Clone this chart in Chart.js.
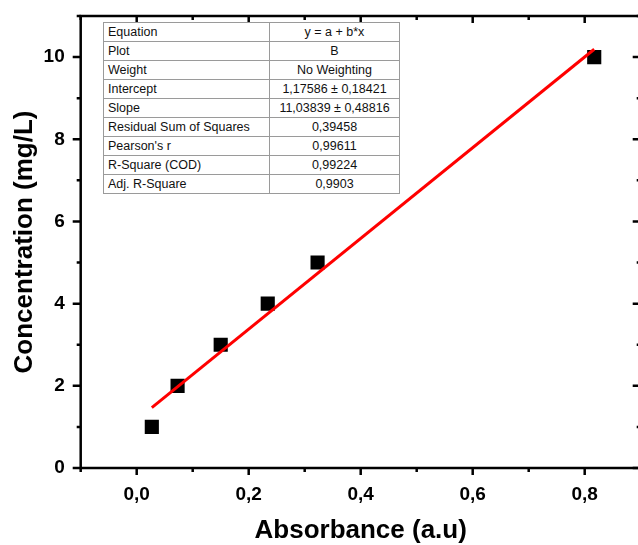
<!DOCTYPE html>
<html>
<head>
<meta charset="utf-8">
<script src="https://cdn.jsdelivr.net/npm/chart.js@4/dist/chart.umd.min.js"></script>
<style>
  html, body { margin: 0; padding: 0; background: #fff; overflow: hidden; }
  #wrap { position: relative; width: 638px; height: 545px; overflow: hidden; }
  #chart { position: absolute; left: 0; top: 0; }
  #stats {
    position: absolute; left: 103px; top: 22px;
    border-collapse: collapse;
    font-family: "Liberation Sans", Arial, sans-serif; font-size: 12.5px; color: #111;
    background: #fff;
  }
  #stats td { border: 1px solid #9a9a9a; height: 18px; padding: 0 4px; line-height: 16px; }
  #stats td.k { width: 157px; text-align: left; }
  #stats td.v { width: 121px; text-align: center; }
</style>
</head>
<body>
<div id="wrap">
  <canvas id="chart" width="648" height="545"></canvas>
  <table id="stats"></table>
</div>
<script>
;(function () {
    'use strict';

    // measured points
    var absorbance    = [0.027, 0.073, 0.150, 0.234, 0.323, 0.817];
    var concentration = [1, 2, 3, 4, 5, 10];

    // fitted line, ends
    var fitX = [0.027, 0.817];
    var fitY = [1.47, 10.19];

    // fit report box
    var statLabels = ['Equation', 'Plot', 'Weight', 'Intercept', 'Slope',
        'Residual Sum of Squares', "Pearson's r", 'R-Square (COD)', 'Adj. R-Square'];
    var statValues = ['y = a + b*x', 'B', 'No Weighting', '1,17586 \u00b1 0,18421',
        '11,03839 \u00b1 0,48816', '0,39458', '0,99611', '0,99224', '0,9903'];

    var table = document.getElementById('stats');
    statLabels.forEach(function (lab, i) {
        var tr = document.createElement('tr');
        var a = document.createElement('td');
        a.className = 'k';
        a.textContent = lab;
        var b = document.createElement('td');
        b.className = 'v';
        b.textContent = statValues[i];
        tr.appendChild(a);
        tr.appendChild(b);
        table.appendChild(tr);
    });

    var FONT = '"Liberation Sans", Arial, sans-serif';

    function toPts(xs, ys) {
        return xs.map(function (x, i) { return { x: x, y: ys[i] }; });
    }

    function noPad(s) {
        s.paddingTop = 0;
        s.paddingBottom = 0;
        s.paddingLeft = 0;
        s.paddingRight = 0;
    }

    // frame with ticks on all four sides (out on left/bottom, in on top/right)
    var frame = {
        id: 'frame',
        afterDraw: function (chart) {
            var ctx = chart.ctx;
            var a = chart.chartArea;
            var xs = chart.scales.x;
            var ys = chart.scales.y;
            ctx.save();
            ctx.strokeStyle = '#000';
            ctx.lineWidth = 2.5;
            ctx.lineCap = 'butt';
            ctx.strokeRect(a.left, a.top, a.right - a.left, a.bottom - a.top);

            xs.ticks.forEach(function (t) {
                var px = xs.getPixelForValue(t.value);
                var major = Math.round(t.value * 10) % 2 === 0;
                var len = major ? 7 : 4;
                ctx.beginPath();
                ctx.moveTo(px, a.bottom);
                ctx.lineTo(px, a.bottom + len);
                ctx.moveTo(px, a.top);
                ctx.lineTo(px, a.top + len);
                ctx.stroke();
            });
            ys.ticks.forEach(function (t) {
                var py = ys.getPixelForValue(t.value);
                var major = Math.round(t.value) % 2 === 0;
                var len = major ? 8 : 4;
                ctx.beginPath();
                ctx.moveTo(a.left, py);
                ctx.lineTo(a.left - len, py);
                ctx.moveTo(a.right, py);
                ctx.lineTo(a.right - len, py);
                ctx.stroke();
            });
            ctx.restore();
        }
    };

    new Chart(document.getElementById('chart'), {
        type: 'scatter',
        data: {
            datasets: [{
                label: 'B',
                data: toPts(absorbance, concentration),
                pointStyle: 'rect',
                pointRadius: 10,
                pointHoverRadius: 10,
                backgroundColor: '#000',
                borderColor: '#000',
                borderWidth: 0,
                order: 1
            }, {
                label: 'Linear Fit',
                type: 'line',
                data: toPts(fitX, fitY),
                borderColor: '#ff0000',
                borderWidth: 3,
                pointRadius: 0,
                fill: false,
                order: 0
            }]
        },
        options: {
            responsive: false,
            animation: false,
            devicePixelRatio: 1,
            layout: {
                autoPadding: false,
                padding: { top: 16, right: 7.3, left: 0, bottom: 0 }
            },
            plugins: {
                legend: { display: false },
                tooltip: { enabled: false }
            },
            scales: {
                x: {
                    type: 'linear',
                    min: -0.1,
                    max: 0.9,
                    afterFit: function (s) { s.height = 77; noPad(s); },
                    grid: { display: false, drawTicks: false },
                    border: { display: false },
                    ticks: {
                        stepSize: 0.1,
                        padding: 15,
                        color: '#000',
                        font: { family: FONT, size: 19, weight: 'bold' },
                        autoSkip: false,
                        maxRotation: 0,
                        callback: function (v) {
                            var k = Math.round(v * 10);
                            if (k < 0 || k % 2 !== 0) return '';
                            return (k / 10).toFixed(1).replace('.', ',');
                        }
                    },
                    title: {
                        display: true,
                        text: 'Absorbance (a.u)',
                        color: '#000',
                        font: { family: FONT, size: 26, weight: 'bold', lineHeight: 1 },
                        padding: { top: 0, bottom: 1 }
                    }
                },
                y: {
                    type: 'linear',
                    min: 0,
                    max: 11,
                    afterFit: function (s) { s.width = 80.7; noPad(s); },
                    grid: { display: false, drawTicks: false },
                    border: { display: false },
                    ticks: {
                        stepSize: 1,
                        padding: 16,
                        color: '#000',
                        font: { family: FONT, size: 19, weight: 'bold' },
                        autoSkip: false,
                        callback: function (v) {
                            return v % 2 === 0 ? String(v) : '';
                        }
                    },
                    title: {
                        display: true,
                        text: 'Concentration (mg/L)',
                        color: '#000',
                        font: { family: FONT, size: 26, weight: 'bold', lineHeight: 1 },
                        padding: { top: 12, bottom: 0 }
                    }
                }
            }
        },
        plugins: [frame]
    });
})();
</script>
</body>
</html>
